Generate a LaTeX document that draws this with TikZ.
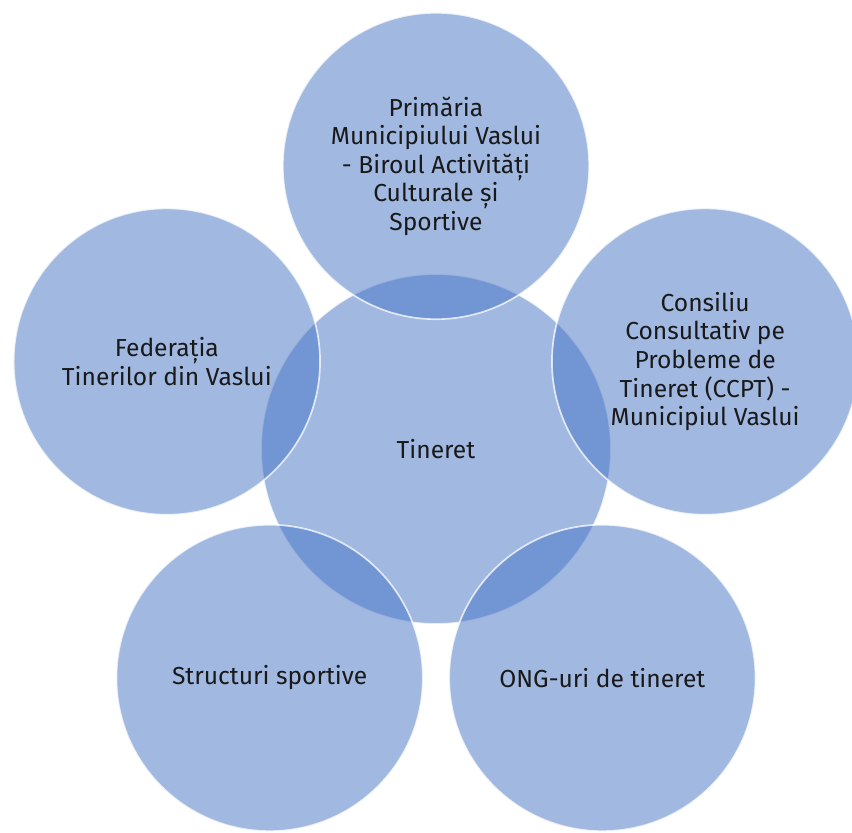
\documentclass[tikz,border=0pt]{standalone}
\usepackage{fontspec}
\setmainfont{Fira Sans}
\usetikzlibrary{positioning}
\definecolor{bubblefill}{RGB}{68,114,196}

\begin{document}
\begin{tikzpicture}[
  bubble/.style={circle, fill=bubblefill, fill opacity=0.5, text opacity=1,
                 draw=white, draw opacity=0.75, line width=1.2pt,
                 minimum size=7.66cm, inner sep=0pt, align=center,
                 font=\fontsize{17.5}{20.3}\selectfont},
  every node/.style={text=black!90}
]
  \useasboundingbox (-10.9,-9.575) rectangle (10.4,11.225);

  \node[bubble, minimum size=8.75cm] (tin) at (0,0) {Tineret};
  \node[bubble] (prim) at (90:7.075)  {Primăria\\Municipiului Vaslui\\- Biroul Activități\\Culturale și\\Sportive};
  \node[bubble] (fed)  at (162:7.075) {Federația\\Tinerilor din Vaslui};
  \node[bubble] (ccpt) at (18:7.075)  {Consiliu\\Consultativ pe\\Probleme de\\Tineret (CCPT) -\\Municipiul Vaslui};
  \node[bubble] (str)  at (234:7.075) {Structuri sportive};
  \node[bubble] (ong)  at (306:7.075) {ONG-uri de tineret};
\end{tikzpicture}
\end{document}
